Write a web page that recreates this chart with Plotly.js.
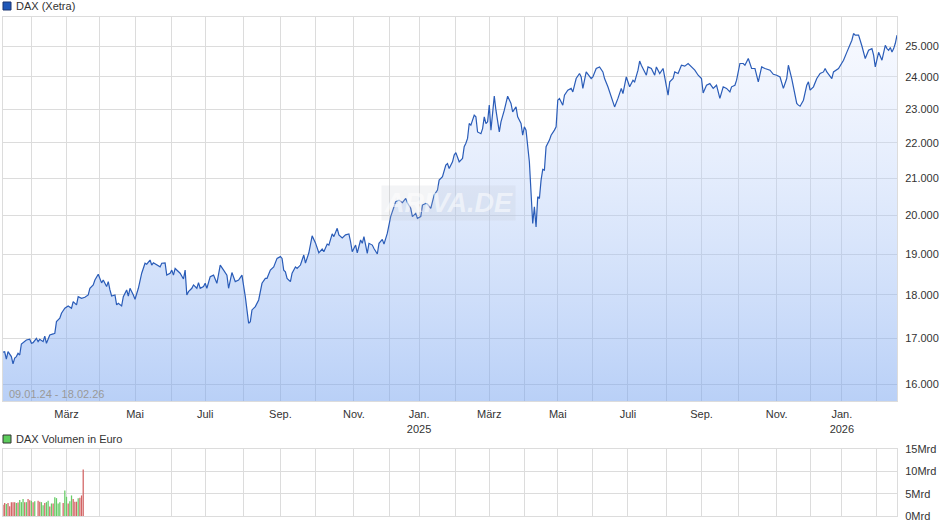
<!DOCTYPE html>
<html><head><meta charset="utf-8">
<script src="https://cdn.plot.ly/plotly-3.0.1.min.js"></script>
<style>html,body{margin:0;padding:0;background:#fff}#chart{width:940px;height:526px}</style>
</head><body><div id="chart"></div>
<script>
const startDate = '2024-01-09', endDate = '2026-02-18';
const holidays = ['2024-01-01','2024-03-29','2024-04-01','2024-05-01','2024-12-24','2024-12-25','2024-12-26','2024-12-31',
  '2025-01-01','2025-04-18','2025-04-21','2025-05-01','2025-12-24','2025-12-25','2025-12-26','2025-12-31','2026-01-01'];

// trading-day index and DAX close
const day = [0,1,2,3,5,6,7,8,9,10,11,12,14,16,17,18,20,21,22,24,25,26,27,28,30,31,32,34,35,37,39,41,42,44,45,47,49,51,52,54,55,57,59,60,62,63,64,65,67,68,69,71,72,74,75,76,78,79,81,83,85,86,88,89,90,92,94,95,97,98,100,101,102,103,105,106,108,109,110,111,113,114,116,117,118,120,121,122,124,126,128,130,132,134,135,137,139,141,143,145,147,148,149,151,153,155,157,158,160,162,164,166,167,168,169,170,172,173,175,176,178,180,181,183,185,187,189,191,192,194,195,197,198,200,201,203,205,207,208,209,211,212,214,215,216,218,219,221,222,224,225,227,228,230,232,233,235,237,239,241,242,244,245,247,248,250,251,253,254,256,258,260,261,263,265,266,267,269,270,271,272,273,275,276,277,278,279,280,282,283,284,286,287,288,289,290,291,292,294,295,297,298,300,301,302,304,305,307,308,310,311,312,313,315,316,317,318,319,320,321,322,323,324,325,327,328,330,331,332,333,335,336,338,340,341,343,345,346,347,349,352,353,355,357,359,360,362,363,364,366,368,370,371,373,375,377,378,380,381,382,385,386,388,390,391,393,395,396,398,399,401,402,404,406,408,410,412,414,416,418,419,421,423,425,427,429,431,433,435,436,438,439,441,443,444,446,448,450,452,454,456,459,461,463,465,467,469,470,472,474,475,476,477,479,481,482,483,485,487,489,491,492,493,496,497,500,502,503,505,507,508,509,510,512,513,514,516,517,518,520,521,522,523,524,526,527,528,529,530,531,532,533,534,535];
const close = [16690,16700,16541,16704,16595,16435,16560,16595,16668,16630,16873,16903,16963,16978,16888,16903,17000,16925,16978,16925,17050,16888,17000,17075,17098,17113,17378,17455,17571,17688,17742,17688,17843,17765,17960,17922,17945,18000,18160,18240,18360,18500,18290,18360,18200,18320,18119,17975,18000,17765,17805,17742,17960,18119,17975,18160,18000,17898,18160,18525,18770,18745,18850,18725,18780,18725,18680,18770,18780,18478,18525,18600,18478,18640,18560,18525,18385,18600,18000,18080,18160,18240,18160,18295,18160,18200,18280,18160,18440,18478,18280,18725,18600,18478,18160,18540,18320,18360,18478,17960,17340,17378,17648,17725,17882,18280,18400,18400,18600,18680,18890,18935,18890,18600,18560,18400,18320,18525,18680,18640,18725,18975,18775,19025,19460,19280,19030,19125,19058,19250,19225,19510,19440,19655,19485,19405,19485,19510,19310,19058,19225,19030,19354,19270,19440,19015,19270,19225,19140,19000,19270,19370,19250,19530,19960,20090,20357,20400,20330,20445,20330,20180,19960,20045,19915,19960,20268,20310,20295,20180,20535,20672,20946,21038,21364,21410,21270,21458,21650,21720,21600,21458,21555,21890,21990,22130,22570,22520,22820,22770,22320,22270,22420,22770,22570,22620,23124,22374,23400,22970,22320,22620,22970,23175,23400,23175,22920,23070,22770,22570,22225,22470,22374,21458,20400,19780,20220,19690,20490,20445,20946,21245,21224,21890,22081,22225,22374,22470,23276,23330,23120,23430,23585,23640,23530,23950,24110,24000,23640,24160,23950,24000,24270,24320,24160,23950,23690,23530,23375,23070,23330,23640,23480,24000,23690,23897,23845,24215,24510,24375,24055,24320,24270,24055,24320,24110,24270,23950,23430,23845,23950,24160,24110,24375,24345,24430,24320,24215,24055,23950,23500,23740,23790,23640,23740,23330,23690,23640,23530,23690,23740,23897,24430,24430,24375,24590,24270,24270,23845,24320,24270,24215,24085,24055,24000,23640,23950,24375,23950,23480,23175,23124,23090,23276,23740,23845,23585,23690,23950,24110,24160,24270,24160,23950,24160,24270,24430,24536,24800,25025,25191,25415,25360,25360,25191,25000,24590,24760,24861,24915,24700,24320,24590,24795,24536,24795,25025,24915,24861,24950,24800,24915,25090,25360];

// volume (Mrd Euro), direction 1 = up (green), -1 = down (red)
const volDay = [0,1,2,3,4,5,6,7,8,9,10,11,12,13,14,15,16,17,18,19,21,22,23,24,25,26,27,28,29,30,31,32,33,34,36,37,38,39,40,41,42,43,44,45,46,47,48];
const volume = [2.5,2.9,2.7,2.9,2.2,3.1,3.1,3.1,2.9,3.0,3.6,3.1,3.8,3.1,3.1,3.8,3.5,3.4,3.1,3.3,3.4,3.2,3.1,2.4,2.9,3.1,3.4,2.1,2.8,2.8,4.2,4.0,2.8,3.1,2.9,5.7,4.3,2.8,3.3,4.6,3.8,3.2,3.2,4.0,4.1,4.6,10.4];
const volDir = [-1,-1,1,-1,-1,-1,-1,-1,1,-1,1,1,1,-1,1,-1,-1,1,-1,1,-1,-1,1,1,-1,1,1,-1,1,-1,1,1,1,1,-1,1,1,-1,1,1,-1,-1,-1,1,-1,-1,-1];

const priceTicks = [16000,17000,18000,19000,20000,21000,22000,23000,24000,25000];
const volTicks = [0,5,10,15];
const volTickText = ['0Mrd','5Mrd','10Mrd','15Mrd'];
const monthLabels = ['Jan.','','März','','Mai','','Juli','','Sep.','','Nov.',''];

// trading calendar (weekdays without exchange holidays)
function tradingDays(){
  const out=[]; const hol=new Set(holidays);
  let d=new Date(startDate+'T00:00:00Z'); const e=new Date(endDate+'T00:00:00Z');
  while(d<=e){
    const wd=d.getUTCDay(); const s=d.toISOString().slice(0,10);
    if(wd!==0 && wd!==6 && !hol.has(s)) out.push(s);
    d=new Date(d.getTime()+86400000);
  }
  return out;
}
const cal = tradingDays();
const monthTickVals=[], monthTickText=[];
for(let i=1;i<cal.length;i++){
  if(cal[i].slice(0,7)!==cal[i-1].slice(0,7)){
    const m=parseInt(cal[i].slice(5,7),10), y=cal[i].slice(0,4);
    monthTickVals.push(i);
    monthTickText.push(m===1 ? monthLabels[0]+'<br>'+y : monthLabels[m-1]);
  }
}
const lastIdx = cal.length-1;

const FONT = 'Liberation Sans, Arial, sans-serif';
const gridC = '#dcdcdc';

const price = {
  x: day, y: close, type:'scatter', mode:'lines',
  line:{color:'#2a5cb8', width:1.2},
  fill:'tozeroy',
  fillgradient:{type:'vertical', start:15650, stop:26000,
    colorscale:[[0,'rgba(115,161,239,0.5)'],[1,'rgba(232,238,255,0.3)']]},
  xaxis:'x', yaxis:'y', hoverinfo:'skip', showlegend:false
};
const vol = {
  x: volDay, y: volume, type:'bar', width:0.75,
  marker:{color: volDir.map(v=> v>0 ? '#66cc66' : '#d26464'), line:{width:0}},
  xaxis:'x2', yaxis:'y2', hoverinfo:'skip', showlegend:false
};

const H = 526, MT = 17, MB = 10, PH = H-MT-MB;
const py = p => (H-MB-p)/PH;           // pixel -> paper y
const px = p => (p-3)/894;             // pixel -> paper x

const layout = {
  width:940, height:526,
  margin:{l:3, r:43, t:MT, b:MB},
  paper_bgcolor:'#fff', plot_bgcolor:'#fff',
  separators:',.',
  font:{family:FONT, size:11, color:'#333'},
  showlegend:false,
  xaxis:{
    domain:[0,1], range:[0,lastIdx], anchor:'y',
    tickmode:'array', tickvals:monthTickVals, ticktext:monthTickText,
    showgrid:true, gridcolor:gridC, gridwidth:1, zeroline:false,
    showline:true, linecolor:gridC, mirror:true,
    ticks:'outside', ticklen:3, tickcolor:'rgba(0,0,0,0)',
    tickfont:{family:FONT, size:11, color:'#333'}
  },
  yaxis:{
    domain:[py(401), 1], type:'log', side:'right',
    range:[Math.log10(15650), Math.log10(25976)],
    tickmode:'array', tickvals:priceTicks, tickformat:',.0f',
    showgrid:true, gridcolor:gridC, gridwidth:1, zeroline:false,
    showline:true, linecolor:gridC, mirror:true,
    ticks:'outside', ticklen:5, tickcolor:'rgba(0,0,0,0)',
    tickfont:{family:FONT, size:11, color:'#333'}
  },
  xaxis2:{
    domain:[0,1], range:[0,lastIdx], anchor:'y2',
    tickmode:'array', tickvals:monthTickVals, showticklabels:false,
    showgrid:true, gridcolor:gridC, gridwidth:1, zeroline:false,
    showline:true, linecolor:gridC, mirror:true, ticks:''
  },
  yaxis2:{
    domain:[0, py(449)], side:'right', anchor:'x2', range:[0,15],
    tickmode:'array', tickvals:volTicks, ticktext:volTickText,
    showgrid:true, gridcolor:gridC, gridwidth:1, zeroline:false,
    showline:true, linecolor:gridC, mirror:true,
    ticks:'outside', ticklen:5, tickcolor:'rgba(0,0,0,0)',
    tickfont:{family:FONT, size:11, color:'#333'}
  },
  shapes:[
    {type:'rect', xref:'paper', yref:'paper', x0:px(3), x1:px(11), y0:py(10), y1:py(2),
     fillcolor:'#1f57b8', line:{color:'#1a3570', width:1}},
    {type:'rect', xref:'paper', yref:'paper', x0:px(3), x1:px(11), y0:py(443), y1:py(435),
     fillcolor:'#5ccc5c', line:{color:'#333', width:1}}
  ],
  annotations:[
    {xref:'paper', yref:'paper', x:px(14), y:py(6), xanchor:'left', yanchor:'middle', showarrow:false,
     text:'DAX (Xetra)', font:{family:FONT, size:11, color:'#333'}},
    {xref:'paper', yref:'paper', x:px(14), y:py(439), xanchor:'left', yanchor:'middle', showarrow:false,
     text:'DAX Volumen in Euro', font:{family:FONT, size:11, color:'#333'}},
    {xref:'paper', yref:'paper', x:px(7), y:py(394), xanchor:'left', yanchor:'middle', showarrow:false,
     text:'09.01.24 - 18.02.26', font:{family:FONT, size:11, color:'#999'}},
    {xref:'paper', yref:'paper', x:px(448), y:py(203), xanchor:'center', yanchor:'middle', showarrow:false,
     text:'<b><i>ARIVA.DE</i></b>', font:{family:FONT, size:27, color:'rgba(255,255,255,0.55)'},
     bgcolor:'rgba(190,195,205,0.18)', borderpad:2}
  ]
};

Plotly.newPlot('chart', [price, vol], layout, {staticPlot:true, displayModeBar:false});
</script>
</body></html>
